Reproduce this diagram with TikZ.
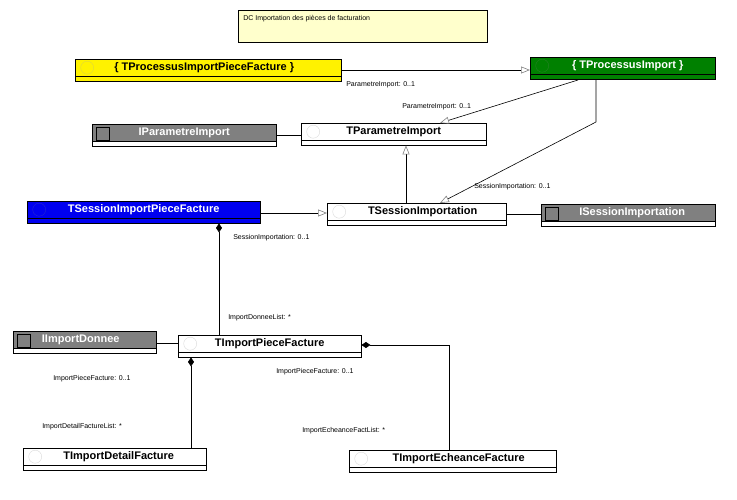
\documentclass[tikz,border=0pt]{standalone}
\usepackage{fontspec}
\setmainfont{Liberation Sans}
\usetikzlibrary{arrows.meta}

\definecolor{notefill}{RGB}{255,255,204}
\definecolor{pgreen}{RGB}{0,128,0}
\definecolor{pblue}{RGB}{0,0,240}
\definecolor{igray}{RGB}{128,128,128}

\tikzset{
  box/.style={draw, anchor=north west, inner sep=0pt, minimum height=22pt, thin},
  cls/.style={box, path picture={
      \draw ([yshift=5pt]path picture bounding box.south west) -- ([yshift=5pt]path picture bounding box.south east);
      \draw[#1!70!gray] ([xshift=12pt,yshift=2.5pt]path picture bounding box.west) circle (6.5pt);}},
  intf/.style={box, fill=igray, path picture={
      \draw[fill=white] ([yshift=5pt]path picture bounding box.south west) rectangle (path picture bounding box.south east);
      \draw[fill=igray] ([xshift=4pt,yshift=-3pt]path picture bounding box.north west) rectangle +(13pt,-13pt);}},
  clsname/.style={font=\fontsize{11}{12}\selectfont\bfseries, yshift=2.5pt},
  role/.style={font=\fontsize{7}{8}\selectfont, anchor=west, inner sep=0pt},
  gen/.style={-{Triangle[open,length=9pt,width=7pt,color=gray]}},
  comp/.style={{Diamond[length=9pt,width=6pt]}-},
}

\begin{document}
\begin{tikzpicture}[x=1pt, y=-1pt, line width=0.6pt]
\useasboundingbox (0,0) rectangle (737,500);

% note
\node[draw, fill=notefill, anchor=north west, minimum width=249pt, minimum height=32pt] (note) at (238,10) {};
\node[role] (notetxt) at (243,19) {DC Importation des pièces de facturation};

% classes
\node[cls=yellow, fill=yellow, minimum width=266pt, label={[clsname, xshift=-4pt]center:\{ TProcessusImportPieceFacture \}}] (procpiece) at (75,59) {};
\node[cls=pgreen, fill=pgreen, minimum width=185pt, label={[clsname, xshift=5pt, white]center:\{ TProcessusImport \}}] (procimp) at (530,57) {};
\node[intf, minimum width=184pt, label={[clsname, white]center:IParametreImport}] (iparam) at (92,124) {};
\node[cls=white, minimum width=185pt, label={[clsname]center:TParametreImport}] (param) at (301,123) {};
\node[cls=pblue, fill=pblue, minimum width=233pt, label={[clsname, white]center:TSessionImportPieceFacture}] (sesspiece) at (27,201) {};
\node[cls=white, minimum width=179pt, label={[clsname, xshift=6pt]center:TSessionImportation}] (sess) at (327,203) {};
\node[intf, minimum width=174pt, label={[clsname, xshift=4pt, white]center:ISessionImportation}] (isess) at (541,204) {};
\node[intf, minimum width=143pt, label={[clsname, xshift=-4pt, white]center:IImportDonnee}] (idonnee) at (13,331) {};
\node[cls=white, minimum width=183pt, label={[clsname]center:TImportPieceFacture}] (piece) at (178,335) {};
\node[cls=white, minimum width=183pt, label={[clsname, xshift=4pt]center:TImportDetailFacture}] (detail) at (23,448) {};
\node[cls=white, minimum width=207pt, label={[clsname, xshift=6pt]center:TImportEcheanceFacture}] (echeance) at (349,450) {};

% helper points
\coordinate (bend1) at (596,122);
\coordinate (bend2) at (449,345);

% connectors
\draw[gen] (procpiece.east |- 0,70) -- (procimp.west |- 0,70);
\draw[gen] (578,80) -- (440,123);
\draw[gen] (596,80) -- (bend1) -- (440,203);
\draw[gen] (sess.north -| 406,0) -- (param.south -| 406,0);
\draw[gen] (sesspiece.east |- 0,213) -- (sess.west |- 0,213);
\draw (iparam.east |- 0,135) -- (param.west |- 0,135);
\draw (sess.east |- 0,214) -- (isess.west |- 0,214);
\draw (idonnee.east |- 0,343) -- (piece.west |- 0,343);
\draw[comp] (sesspiece.south -| 219,0) -- (piece.north -| 219,0);
\draw[comp] (piece.south -| 191,0) -- (detail.north -| 191,0);
\draw[comp] (piece.east |- 0,345) -- (bend2) -- (echeance.north -| 449,0);

% roles
\node[role] (r1) at (346,85) {ParametreImport: 0..1};
\node[role] (r2) at (402,107) {ParametreImport: 0..1};
\node[role] (r3) at (474,187) {SessionImportation: 0..1};
\node[role] (r4) at (233,238) {SessionImportation: 0..1};
\node[role] (r5) at (228,318) {ImportDonneeList: *};
\node[role] (r6) at (53,379) {ImportPieceFacture: 0..1};
\node[role] (r7) at (42,427) {ImportDetailFactureList: *};
\node[role] (r8) at (276,372) {ImportPieceFacture: 0..1};
\node[role] (r9) at (302,431) {ImportEcheanceFactList: *};
\end{tikzpicture}
\end{document}
